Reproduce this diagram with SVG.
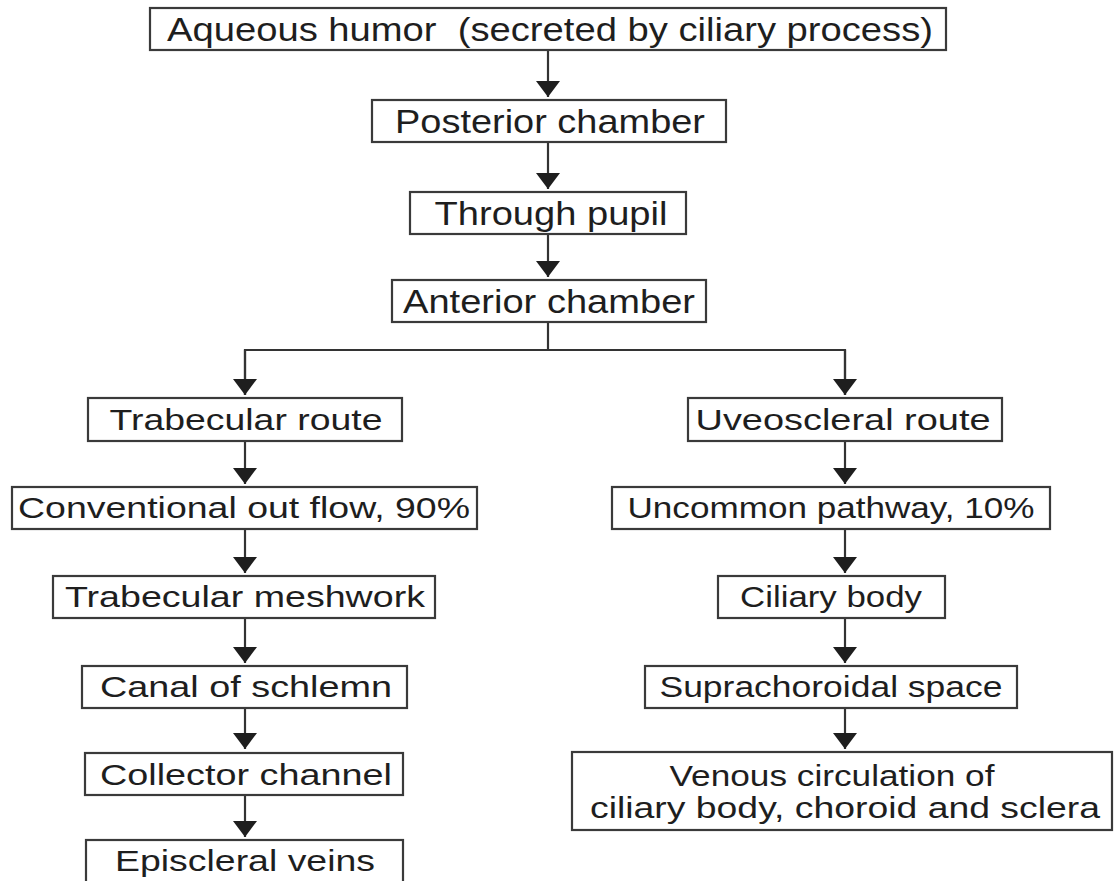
<svg xmlns="http://www.w3.org/2000/svg" width="1115" height="881" viewBox="0 0 1115 881">
<style>
.box{fill:#fff;stroke:#3a3a3a;stroke-width:2.2}
.t{font-family:"Liberation Sans",Arial,sans-serif;font-size:30px;fill:#1e1e1e;text-anchor:middle}
.u{font-size:33px}
.c{fill:none;stroke:#333;stroke-width:2.2}
</style>
<defs>
<marker id="ah" markerUnits="userSpaceOnUse" markerWidth="18" markerHeight="26" refX="16" refY="12" orient="auto" viewBox="0 0 18 26">
<path d="M0,0 L16,12 L0,24 z" fill="#1e1e1e"/>
</marker>
</defs>
<rect width="1115" height="881" fill="#fff"/>
<g id="connectors">
<line class="c" x1="548" y1="50" x2="548" y2="97" marker-end="url(#ah)"/>
<line class="c" x1="548" y1="142" x2="548" y2="189" marker-end="url(#ah)"/>
<line class="c" x1="548" y1="234" x2="548" y2="277" marker-end="url(#ah)"/>
<polyline class="c" points="548,322 548,350"/>
<polyline class="c" points="245,395 245,350 845,350 845,395"/>
<line class="c" x1="245" y1="350" x2="245" y2="395" marker-end="url(#ah)"/>
<line class="c" x1="845" y1="350" x2="845" y2="395" marker-end="url(#ah)"/>
<line class="c" x1="245" y1="441" x2="245" y2="484" marker-end="url(#ah)"/>
<line class="c" x1="245" y1="529" x2="245" y2="573" marker-end="url(#ah)"/>
<line class="c" x1="245" y1="618" x2="245" y2="663" marker-end="url(#ah)"/>
<line class="c" x1="245" y1="708" x2="245" y2="749" marker-end="url(#ah)"/>
<line class="c" x1="245" y1="795" x2="245" y2="837" marker-end="url(#ah)"/>
<line class="c" x1="845" y1="441" x2="845" y2="484" marker-end="url(#ah)"/>
<line class="c" x1="845" y1="529" x2="845" y2="573" marker-end="url(#ah)"/>
<line class="c" x1="845" y1="618" x2="845" y2="663" marker-end="url(#ah)"/>
<line class="c" x1="845" y1="708" x2="845" y2="749" marker-end="url(#ah)"/>
</g>
<g id="aqueous"><rect class="box" x="150" y="8" width="796" height="42"/><text class="t u" x="550" y="41" textLength="766" lengthAdjust="spacingAndGlyphs" xml:space="preserve">Aqueous humor  (secreted by ciliary process)</text></g>
<g id="posterior"><rect class="box" x="372" y="100" width="354" height="42"/><text class="t u" x="550" y="133" textLength="310" lengthAdjust="spacingAndGlyphs">Posterior chamber</text></g>
<g id="pupil"><rect class="box" x="410" y="192" width="276" height="42"/><text class="t u" x="551" y="225" textLength="233" lengthAdjust="spacingAndGlyphs">Through pupil</text></g>
<g id="anterior"><rect class="box" x="392" y="280" width="314" height="42"/><text class="t u" x="549" y="313" textLength="292" lengthAdjust="spacingAndGlyphs">Anterior chamber</text></g>
<g id="trabecular-route"><rect class="box" x="88" y="398" width="314" height="43"/><text class="t" x="246" y="430" textLength="273" lengthAdjust="spacingAndGlyphs">Trabecular route</text></g>
<g id="conventional"><rect class="box" x="12" y="487" width="465" height="42"/><text class="t" x="244" y="518" textLength="452" lengthAdjust="spacingAndGlyphs">Conventional out flow, 90%</text></g>
<g id="meshwork"><rect class="box" x="53" y="576" width="382" height="42"/><text class="t" x="245" y="607" textLength="360" lengthAdjust="spacingAndGlyphs">Trabecular meshwork</text></g>
<g id="schlemn"><rect class="box" x="82" y="666" width="325" height="42"/><text class="t" x="246" y="697" textLength="292" lengthAdjust="spacingAndGlyphs">Canal of schlemn</text></g>
<g id="collector"><rect class="box" x="85" y="753" width="318" height="42"/><text class="t" x="246" y="785" textLength="292" lengthAdjust="spacingAndGlyphs">Collector channel</text></g>
<g id="episcleral"><rect class="box" x="86" y="840" width="317" height="50"/><text class="t" x="245" y="871" textLength="260" lengthAdjust="spacingAndGlyphs">Episcleral veins</text></g>
<g id="uveoscleral"><rect class="box" x="688" y="398" width="314" height="43"/><text class="t" x="843" y="430" textLength="295" lengthAdjust="spacingAndGlyphs">Uveoscleral route</text></g>
<g id="uncommon"><rect class="box" x="612" y="487" width="438" height="42"/><text class="t" x="831" y="518" textLength="407" lengthAdjust="spacingAndGlyphs">Uncommon pathway, 10%</text></g>
<g id="ciliary"><rect class="box" x="718" y="576" width="227" height="42"/><text class="t" x="831" y="607" textLength="182" lengthAdjust="spacingAndGlyphs">Ciliary body</text></g>
<g id="suprachoroidal"><rect class="box" x="645" y="666" width="372" height="42"/><text class="t" x="831" y="697" textLength="343" lengthAdjust="spacingAndGlyphs">Suprachoroidal space</text></g>
<g id="venous"><rect class="box" x="572" y="752" width="540" height="78"/><text class="t" x="832" y="786" textLength="325" lengthAdjust="spacingAndGlyphs">Venous circulation of</text><text class="t" x="845" y="818" textLength="510" lengthAdjust="spacingAndGlyphs">ciliary body, choroid and sclera</text></g>
</svg>
